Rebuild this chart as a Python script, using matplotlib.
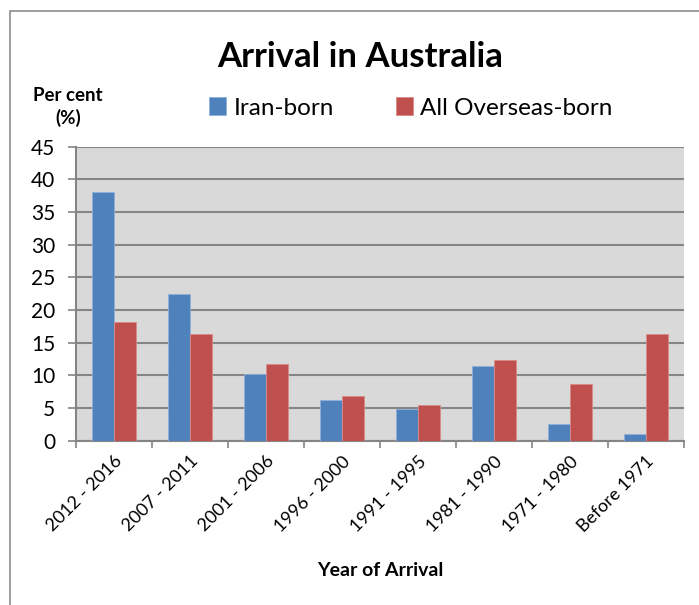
import matplotlib.pyplot as plt
import numpy as np
from matplotlib.patches import Rectangle

# Dati
periods = ['2012 - 2016', '2007 - 2011', '2001 - 2006', '1996 - 2000',
           '1991 - 1995', '1981 - 1990', '1971 - 1980', 'Before 1971']
iran_born = [38.1, 22.5, 10.2, 6.3, 4.8, 11.4, 2.6, 1.0]
overseas_born = [18.2, 16.3, 11.7, 6.9, 5.4, 12.4, 8.7, 16.3]
y_ticks = list(range(0, 50, 5))

plt.rcParams['font.family'] = ['Lato', 'DejaVu Sans']

fig = plt.figure(figsize=(6.99, 6.05), dpi=100)
ax = fig.add_axes([76 / 699, 1 - 440.7 / 605, 608 / 699, 294 / 605])

# cornice esterna del grafico (solo lati sinistro e superiore visibili)
fig.patches.append(Rectangle((10 / 699, -0.1), 1.2, 1 - 11 / 605 + 0.1,
                             transform=fig.transFigure, fill=False,
                             edgecolor='#8c8c8c', linewidth=1.2))

x = np.arange(len(periods))
w = 0.285
ax.bar(x - w / 2, iran_born, w, color='#4F81BD', edgecolor='#8fb0d9',
       linewidth=0.6, label='Iran-born', zorder=3)
ax.bar(x + w / 2, overseas_born, w, color='#C0504D', edgecolor='#d98a88',
       linewidth=0.6, label='All Overseas-born', zorder=3)

ax.set_facecolor('#d9d9d9')
ax.set_xlim(-0.5, len(periods) - 0.5)
ax.set_ylim(0, 45)
ax.set_yticks(y_ticks)
ax.yaxis.grid(True, color='#858585', linewidth=1.5, zorder=1)
ax.set_axisbelow(True)

ax.set_xticks(np.arange(len(periods) + 1) - 0.5)
ax.set_xticklabels([])
ax.set_xticks(x, minor=True)
ax.set_xticklabels(periods, minor=True, rotation=45, ha='right',
                   rotation_mode='anchor', fontsize=13)
ax.tick_params(axis='x', which='minor', length=0, pad=9)
ax.tick_params(axis='x', which='major', length=5, color='#858585', width=1.2)
ax.tick_params(axis='y', length=6, color='#858585', width=1.2, labelsize=15,
               pad=9)

for s in ['top', 'right']:
    ax.spines[s].set_visible(False)
for s in ['left', 'bottom']:
    ax.spines[s].set_color('#858585')
    ax.spines[s].set_linewidth(1.5)

fig.text(360 / 699, 1 - 57 / 605, 'Arrival in Australia', ha='center',
         va='center', fontsize=25, fontweight='bold')
fig.text(68 / 699, 1 - 107 / 605, 'Per cent\n(%)', ha='center', va='center',
         fontsize=13.5, fontweight='bold', linespacing=1.3)
fig.text(380 / 699, 1 - 571 / 605, 'Year of Arrival', ha='center',
         va='center', fontsize=14, fontweight='bold')

fig.legend(loc='center', bbox_to_anchor=(411 / 699, 1 - 108 / 605), ncol=2,
           frameon=False, fontsize=17.5, handlelength=0.7, handleheight=0.7,
           handletextpad=0.3, columnspacing=2.55)

fig.savefig('out.png', dpi=100)
